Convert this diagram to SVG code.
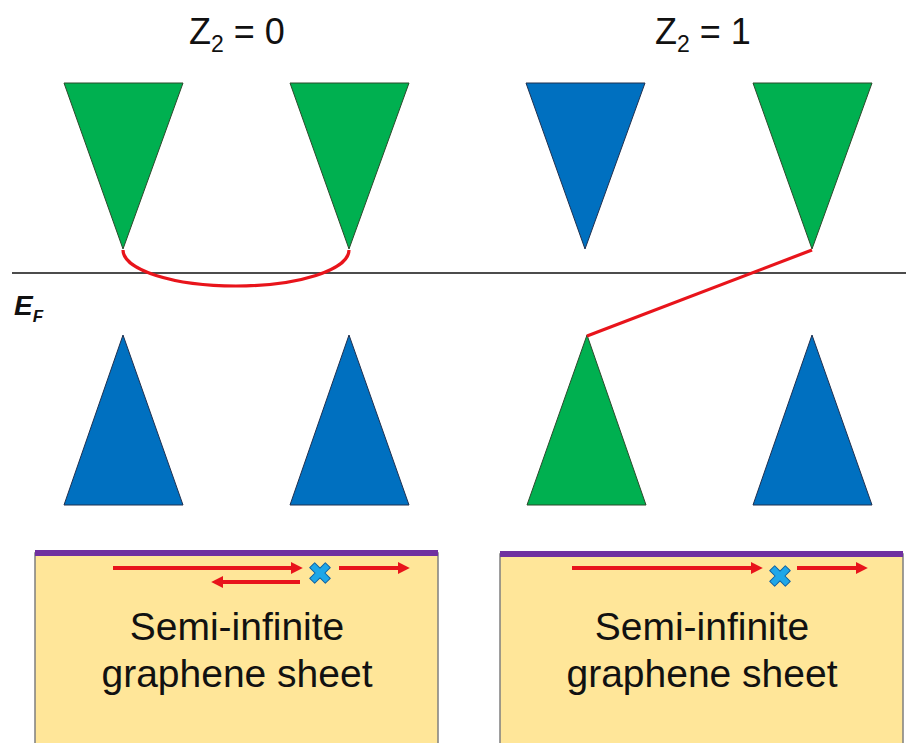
<svg xmlns="http://www.w3.org/2000/svg" width="906" height="743" viewBox="0 0 906 743">
<defs>
<style>
.green{fill:#00B050;stroke:#2B4A2B;stroke-width:1}
.blue{fill:#0070C0;stroke:#1F3050;stroke-width:1}
.title{font-family:"Liberation Sans",Arial,sans-serif;font-size:36px;fill:#111}
.label{font-family:"Liberation Sans",Arial,sans-serif;font-size:39px;fill:#111;text-anchor:middle}
.sheet{fill:#FFE699;stroke:#7F7F7F;stroke-width:1.5}
.edge{fill:none;stroke:#7030A0;stroke-width:6}
.red{fill:none;stroke:#E8141B;stroke-width:3.2}
.arr{fill:none;stroke:#E8141B;stroke-width:4}
.cross{fill:#1FA7E8;stroke:#1060A0;stroke-width:1}
</style>
<marker id="ah" viewBox="0 0 10 10" refX="6" refY="5" markerWidth="3" markerHeight="3" orient="auto-start-reverse" markerUnits="strokeWidth">
<path d="M0,0 L10,5 L0,10 Z" fill="#E8141B"/>
</marker>
<path id="x" d="M-3.5,-11 L3.5,-11 L3.5,-3.5 L11,-3.5 L11,3.5 L3.5,3.5 L3.5,11 L-3.5,11 L-3.5,3.5 L-11,3.5 L-11,-3.5 L-3.5,-3.5 Z" stroke-linejoin="round"/>
</defs>
<rect width="906" height="743" fill="#fff"/>

<g id="title0"><text class="title" x="189" y="44">Z<tspan font-size="23" dy="8">2</tspan><tspan dy="-8"> = 0</tspan></text></g>
<g id="title1"><text class="title" x="655" y="44">Z<tspan font-size="23" dy="8">2</tspan><tspan dy="-8"> = 1</tspan></text></g>

<g id="cone-top-1"><polygon class="green" points="64,83 183,83 123,249"/></g>
<g id="cone-top-2"><polygon class="green" points="290,83 409,83 349,249"/></g>
<g id="cone-top-3"><polygon class="blue" points="526,83 645,83 585,249"/></g>
<g id="cone-top-4"><polygon class="green" points="753,83 872,83 812,249"/></g>

<g id="cone-bot-1"><polygon class="blue" points="123,335 183,505 64,505"/></g>
<g id="cone-bot-2"><polygon class="blue" points="349,335 409,505 290,505"/></g>
<g id="cone-bot-3"><polygon class="green" points="587,335 646,505 527,505"/></g>
<g id="cone-bot-4"><polygon class="blue" points="812,335 872,505 753,505"/></g>

<g id="fermi">
<line x1="12" y1="273" x2="906" y2="273" stroke="#111" stroke-width="1.5"/>
<text x="14" y="315" font-family="Liberation Sans,Arial,sans-serif" font-weight="bold" font-style="italic" font-size="28" fill="#111">E<tspan font-size="17" dy="7">F</tspan></text>
</g>

<g id="connectors">
<path class="red" d="M123,250 A113,36 0 0 0 349,250"/>
<line class="red" x1="812" y1="250" x2="587" y2="336"/>
</g>

<g id="sheet-left">
<rect class="sheet" x="35" y="553" width="403" height="210"/>
<line class="edge" x1="35" y1="553" x2="438" y2="553"/>
<line class="arr" x1="113" y1="568" x2="298" y2="568" marker-end="url(#ah)"/>
<line class="arr" x1="300" y1="582" x2="216" y2="582" marker-end="url(#ah)"/>
<line class="arr" x1="339" y1="568" x2="405" y2="568" marker-end="url(#ah)"/>
<use href="#x" class="cross" transform="translate(320,573) rotate(45)"/>
<text class="label" x="237" y="640">Semi-infinite</text>
<text class="label" x="237" y="687">graphene sheet</text>
</g>

<g id="sheet-right">
<rect class="sheet" x="500" y="554" width="403" height="210"/>
<line class="edge" x1="500" y1="554" x2="903" y2="554"/>
<line class="arr" x1="572" y1="568" x2="758" y2="568" marker-end="url(#ah)"/>
<line class="arr" x1="797" y1="568" x2="863" y2="568" marker-end="url(#ah)"/>
<use href="#x" class="cross" transform="translate(780,576) rotate(45)"/>
<text class="label" x="702" y="640">Semi-infinite</text>
<text class="label" x="702" y="687">graphene sheet</text>
</g>
</svg>
